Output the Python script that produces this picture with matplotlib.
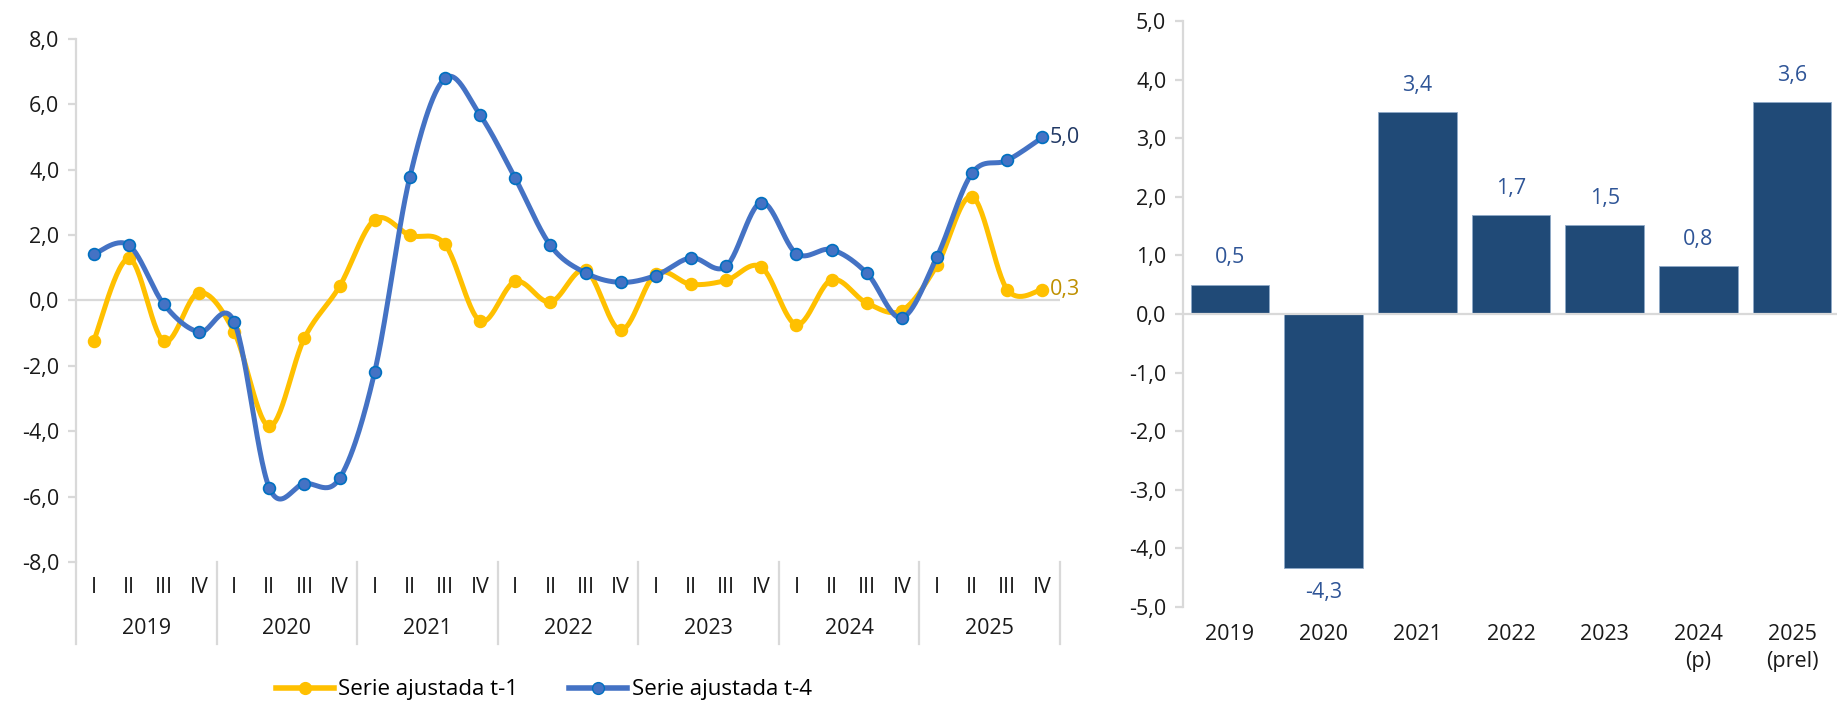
import numpy as np
import matplotlib
matplotlib.use("Agg")
import matplotlib.pyplot as plt
from matplotlib.lines import Line2D
from matplotlib.ticker import FuncFormatter, FixedLocator

plt.rcParams['font.family'] = ['Open Sans', 'DejaVu Sans']

# ---------------- data ----------------
quarters = ["I", "II", "III", "IV"]
years = ["2019", "2020", "2021", "2022", "2023", "2024", "2025"]
serie_t1 = [-1.25, 1.28, -1.25, 0.24,
            -0.97, -3.85, -1.15, 0.43,
            2.47, 1.99, 1.71, -0.63,
            0.58, -0.05, 0.92, -0.91,
            0.82, 0.49, 0.61, 1.02,
            -0.74, 0.63, -0.08, -0.31,
            1.07, 3.17, 0.33, 0.33]
serie_t4 = [1.41, 1.69, -0.12, -0.97,
            -0.66, -5.73, -5.60, -5.44,
            -2.18, 3.78, 6.79, 5.66,
            3.73, 1.68, 0.84, 0.55,
            0.76, 1.30, 1.04, 2.99,
            1.43, 1.55, 0.84, -0.53,
            1.33, 3.89, 4.28, 4.98]
legend_labels = ["Serie ajustada t-1", "Serie ajustada t-4"]

bar_categories = ["2019", "2020", "2021", "2022", "2023", "2024\n(p)", "2025\n(prel)"]
bar_values = [0.5, -4.34, 3.44, 1.69, 1.52, 0.82, 3.62]

# ---------------- styles ----------------
YELLOW = "#FFC000"
BLUE = "#4472C4"
BLUE_EDGE = "#0070C0"
BAR = "#204A77"
LABEL_BLUE = "#2F5597"
GRID = "#D9D9D9"
TXT = "#1A1A1A"
FS = 15.5


def fmt(v):
    return f"{v:.1f}".replace(".", ",")


def smooth(x, y, n=30):
    """Bezier smoothing through points (Excel-like smoothed line)."""
    x = np.asarray(x, float)
    y = np.asarray(y, float)
    P = np.column_stack([x, y])
    Pext = np.vstack([P[0], P, P[-1]])
    out = []
    t = np.linspace(0, 1, n)[:, None]
    for i in range(len(P) - 1):
        p0, p1, p2, p3 = Pext[i], Pext[i + 1], Pext[i + 2], Pext[i + 3]
        b0 = p1
        b1 = p1 + (p2 - p0) / 6.0
        b2 = p2 - (p3 - p1) / 6.0
        b3 = p2
        seg = ((1 - t) ** 3) * b0 + 3 * ((1 - t) ** 2) * t * b1 + 3 * (1 - t) * t ** 2 * b2 + t ** 3 * b3
        out.append(seg if i == 0 else seg[1:])
    out = np.vstack(out)
    return out[:, 0], out[:, 1]


fig = plt.figure(figsize=(18.37, 7.04), dpi=100)

# ---------------- left: quarterly lines ----------------
ax1 = fig.add_axes([0.0414, 0.2017, 0.5356, 0.7433])
xq = np.arange(len(serie_t1))
ax1.axhline(0, color=GRID, lw=1.6, zorder=1)

for vals, col, edge, z in [(serie_t1, YELLOW, YELLOW, 3), (serie_t4, BLUE, BLUE_EDGE, 4)]:
    sx, sy = smooth(xq, vals)
    ax1.plot(sx, sy, color=col, lw=3.6, solid_capstyle='round', zorder=z)
    ax1.plot(xq, vals, linestyle='none', marker='o', ms=8.5, mfc=col, mec=edge, mew=1.2, zorder=z + 0.5)

ax1.text(xq[-1] + 0.22, serie_t4[-1], fmt(serie_t4[-1]), color="#203864", fontsize=FS, va='center', ha='left')
ax1.text(xq[-1] + 0.22, serie_t1[-1], fmt(serie_t1[-1]), color="#BF9000", fontsize=FS, va='center', ha='left')

ax1.set_xlim(-0.5, len(xq) - 0.5)
ax1.set_ylim(-8, 8)
ax1.yaxis.set_major_locator(FixedLocator(np.arange(-8, 9, 2)))
ax1.yaxis.set_major_formatter(FuncFormatter(lambda v, p: fmt(v)))
ax1.set_xticks([])
for s in ["top", "right", "bottom"]:
    ax1.spines[s].set_visible(False)
ax1.spines["left"].set_color(GRID)
ax1.spines["left"].set_linewidth(1.6)
ax1.tick_params(axis='y', colors=GRID, labelcolor=TXT, labelsize=FS, length=6, width=1.6, pad=6)

trans = ax1.get_xaxis_transform()
for i in range(len(xq)):
    ax1.text(xq[i], -0.048, quarters[i % 4], transform=trans, ha='center', va='center',
             fontsize=FS, color=TXT)
for k, yr in enumerate(years):
    ax1.text(4 * k + 1.5, -0.128, yr, transform=trans, ha='center', va='center',
             fontsize=FS, color=TXT)
for k in range(len(years) + 1):
    ax1.add_line(Line2D([4 * k - 0.5, 4 * k - 0.5], [0, -0.157], transform=trans,
                        color=GRID, lw=1.6, clip_on=False))

handles = [Line2D([], [], color=YELLOW, lw=4, marker='o', ms=8.5, mfc=YELLOW, mec=YELLOW),
           Line2D([], [], color=BLUE, lw=4, marker='o', ms=8.5, mfc=BLUE, mec=BLUE_EDGE)]
fig.legend(handles, legend_labels, loc='center', bbox_to_anchor=(0.296, 0.02), ncol=2,
           frameon=False, fontsize=16, handlelength=2.6, handletextpad=0.2, columnspacing=2.3)

# ---------------- right: annual bars ----------------
ax2 = fig.add_axes([0.644, 0.138, 0.356, 0.832])
xb = np.arange(len(bar_values))
ax2.bar(xb, bar_values, width=0.84, color=BAR, edgecolor="#8EA9C8", linewidth=0.6, zorder=2)
ax2.axhline(0, color=GRID, lw=1.6, zorder=3)
for xi, v in zip(xb, bar_values):
    if v >= 0:
        ax2.text(xi, v + 0.28, fmt(v), ha='center', va='bottom', fontsize=FS, color=LABEL_BLUE)
    else:
        ax2.text(xi, v - 0.24, fmt(v), ha='center', va='top', fontsize=FS, color=LABEL_BLUE)

ax2.set_xlim(-0.5, 6.48)
ax2.set_ylim(-5, 5)
ax2.yaxis.set_major_locator(FixedLocator(np.arange(-5, 6, 1)))
ax2.yaxis.set_major_formatter(FuncFormatter(lambda v, p: fmt(v)))
ax2.set_xticks(xb)
ax2.set_xticklabels(bar_categories)
for s in ["top", "right", "bottom"]:
    ax2.spines[s].set_visible(False)
ax2.spines["left"].set_color(GRID)
ax2.spines["left"].set_linewidth(1.6)
ax2.tick_params(axis='y', colors=GRID, labelcolor=TXT, labelsize=FS, length=6, width=1.6, pad=6)
ax2.tick_params(axis='x', length=0, labelsize=FS, labelcolor=TXT, pad=12)
for lab in ax2.get_xticklabels():
    lab.set_linespacing(1.4)

fig.savefig("out.png", dpi=100)
